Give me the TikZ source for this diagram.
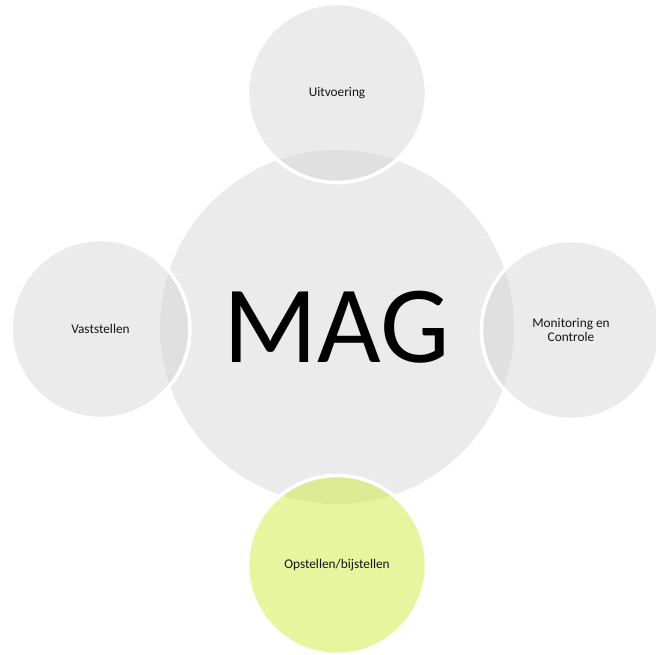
\documentclass[tikz,border=0pt]{standalone}
\usepackage{fontspec}
\setmainfont{Carlito}
\definecolor{biggray}{RGB}{235,235,235}
\definecolor{smallgray}{RGB}{211,211,211}
\definecolor{lime}{RGB}{204,233,44}
\definecolor{txt}{RGB}{20,20,20}
\tikzset{
  bigc/.style={circle, fill=biggray, minimum size=354pt, inner sep=0pt, font=\fontsize{110}{114}\selectfont, text=black},
  smallc/.style={circle, draw=white, line width=3.5pt, fill=smallgray, fill opacity=0.45, text opacity=1, minimum size=179pt, inner sep=0pt, align=center, font=\fontsize{13.3}{14.5}\selectfont, text=txt},
  limec/.style={smallc, fill=lime}
}
\begin{document}
\begin{tikzpicture}[x=1pt,y=-1pt]
\useasboundingbox[fill=white] (0,0) rectangle (656,654);
\node[bigc] (mag) at (337,327) {MAG};
\node[smallc] (top) at (337,93) {Uitvoering};
\node[smallc] (left) at (100.5,329) {Vaststellen};
\node[smallc] (right) at (571,330) {Monitoring en\\Controle};
\node[limec] (bottom) at (337,565) {Opstellen/bijstellen};
\end{tikzpicture}
\end{document}
